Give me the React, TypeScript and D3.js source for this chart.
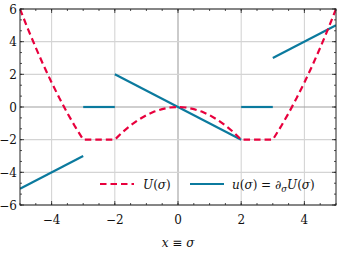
import React from "react";
import * as d3 from "d3";

const W = 338, H = 257;
const M = { left: 20, right: 2, top: 9, bottom: 52 };

// U(σ) sampled curve (dashed red)
const uX = [-5, -4.75, -4.5, -4.25, -4, -3.75, -3.5, -3.25, -3, -2.5, -2, -1.75, -1.5, -1.25, -1, -0.75, -0.5, -0.25, 0, 0.25, 0.5, 0.75, 1, 1.25, 1.5, 1.75, 2, 2.5, 3, 3.25, 3.5, 3.75, 4, 4.25, 4.5, 4.75, 5];
const uY = [6, 4.78, 3.63, 2.53, 1.5, 0.53, -0.38, -1.22, -2, -2, -2, -1.53, -1.13, -0.78, -0.5, -0.28, -0.13, -0.03, 0, -0.03, -0.13, -0.28, -0.5, -0.78, -1.13, -1.53, -2, -2, -2, -1.22, -0.38, 0.53, 1.5, 2.53, 3.63, 4.78, 6];

// u(σ) = ∂σU(σ) segments (solid blue)
const dSegX = [[-5, -3], [-3, -2], [-2, 2], [2, 3], [3, 5]];
const dSegY = [[-5, -3], [0, 0], [2, -2], [0, 0], [3, 5]];

const xTicks = [-4, -2, 0, 2, 4];
const yTicks = [-6, -4, -2, 0, 2, 4, 6];
const xMinor = d3.range(-5, 5.001, 0.5);
const yMinor = d3.range(-6, 6.001, 2 / 3);

const RED = "#e8003d";
const BLUE = "#0b7a9e";
const FONT = "DejaVu Serif";

export default function App() {
  const x = d3.scaleLinear().domain([-5, 5]).range([M.left, W - M.right]);
  const y = d3.scaleLinear().domain([-6, 6]).range([H - M.bottom, M.top]);
  const x0 = M.left, x1 = W - M.right, y0 = H - M.bottom, y1 = M.top;

  const line = d3.line<[number, number]>().x(d => x(d[0])).y(d => y(d[1]));
  const uPts: [number, number][] = uX.map((v, i) => [v, uY[i]]);

  const minus = (v: number) => (v < 0 ? "\u2212" + Math.abs(v) : String(v));

  return (
    <div style={{ position: "absolute", left: 0, top: 0 }}>
      <svg width={W} height={H} fontFamily={FONT} fontSize={12} style={{ display: "block", background: "#fff" }}>
        <defs>
          <clipPath id="clip">
            <rect x={x0} y={y1} width={x1 - x0} height={y0 - y1} />
          </clipPath>
        </defs>
        {xTicks.map(t => (
          <line key={"gx" + t} x1={x(t)} x2={x(t)} y1={y1} y2={y0}
            stroke={t === 0 ? "#a0a0a0" : "#d4d4d4"} strokeWidth={1.1} />
        ))}
        {yTicks.map(t => (
          <line key={"gy" + t} x1={x0} x2={x1} y1={y(t)} y2={y(t)}
            stroke={t === 0 ? "#a0a0a0" : "#d4d4d4"} strokeWidth={1.1} />
        ))}
        <g clipPath="url(#clip)">
          {dSegX.map((sx, i) => (
            <path key={"d" + i}
              d={line([[sx[0], dSegY[i][0]], [sx[1], dSegY[i][1]]]) || ""}
              fill="none" stroke={BLUE} strokeWidth={2.2} />
          ))}
          <path d={line(uPts) || ""} fill="none" stroke={RED} strokeWidth={2.2}
            strokeDasharray="6.5,4" />
        </g>
        <rect x={x0} y={y1} width={x1 - x0} height={y0 - y1} fill="none" stroke="#222" strokeWidth={1} />
        {xMinor.map((t, i) => (
          <g key={"xm" + i} stroke="#222" strokeWidth={0.8}>
            <line x1={x(t)} x2={x(t)} y1={y0} y2={y0 - 2} />
            <line x1={x(t)} x2={x(t)} y1={y1} y2={y1 + 2} />
          </g>
        ))}
        {yMinor.map((t, i) => (
          <g key={"ym" + i} stroke="#222" strokeWidth={0.8}>
            <line x1={x0} x2={x0 + 2} y1={y(t)} y2={y(t)} />
            <line x1={x1} x2={x1 - 2} y1={y(t)} y2={y(t)} />
          </g>
        ))}
        {xTicks.map(t => (
          <g key={"xt" + t} stroke="#222" strokeWidth={0.8}>
            <line x1={x(t)} x2={x(t)} y1={y0} y2={y0 - 4} />
            <line x1={x(t)} x2={x(t)} y1={y1} y2={y1 + 4} />
          </g>
        ))}
        {yTicks.map(t => (
          <g key={"yt" + t} stroke="#222" strokeWidth={0.8}>
            <line x1={x0} x2={x0 + 4} y1={y(t)} y2={y(t)} />
            <line x1={x1} x2={x1 - 4} y1={y(t)} y2={y(t)} />
          </g>
        ))}
        {xTicks.map(t => (
          <text key={"xl" + t} x={x(t)} y={y0 + 19} textAnchor="middle" fill="#111">{minus(t)}</text>
        ))}
        {yTicks.map(t => (
          <text key={"yl" + t} x={x0 - 3} y={y(t) + 4.5} textAnchor="end" fill="#111">{minus(t)}</text>
        ))}
        <line x1={100} x2={134} y1={184} y2={184} stroke={RED} strokeWidth={2.2} strokeDasharray="6.5,4" />
        <text x={143} y={188.5} fill="#111">
          <tspan fontStyle="italic">U</tspan>(<tspan fontStyle="italic">σ</tspan>)
        </text>
        <line x1={190} x2={224} y1={184} y2={184} stroke={BLUE} strokeWidth={2.2} />
        <text x={232} y={188.5} fill="#111">
          <tspan fontStyle="italic">u</tspan>(<tspan fontStyle="italic">σ</tspan>) = ∂<tspan fontStyle="italic" fontSize={8.5} dy={3}>σ</tspan><tspan fontStyle="italic" dy={-3}>U</tspan>(<tspan fontStyle="italic">σ</tspan>)
        </text>
        <text x={x(0)} y={247} textAnchor="middle" fill="#111">
          <tspan fontStyle="italic">x</tspan> ≡ <tspan fontStyle="italic">σ</tspan>
        </text>
      </svg>
    </div>
  );
}
